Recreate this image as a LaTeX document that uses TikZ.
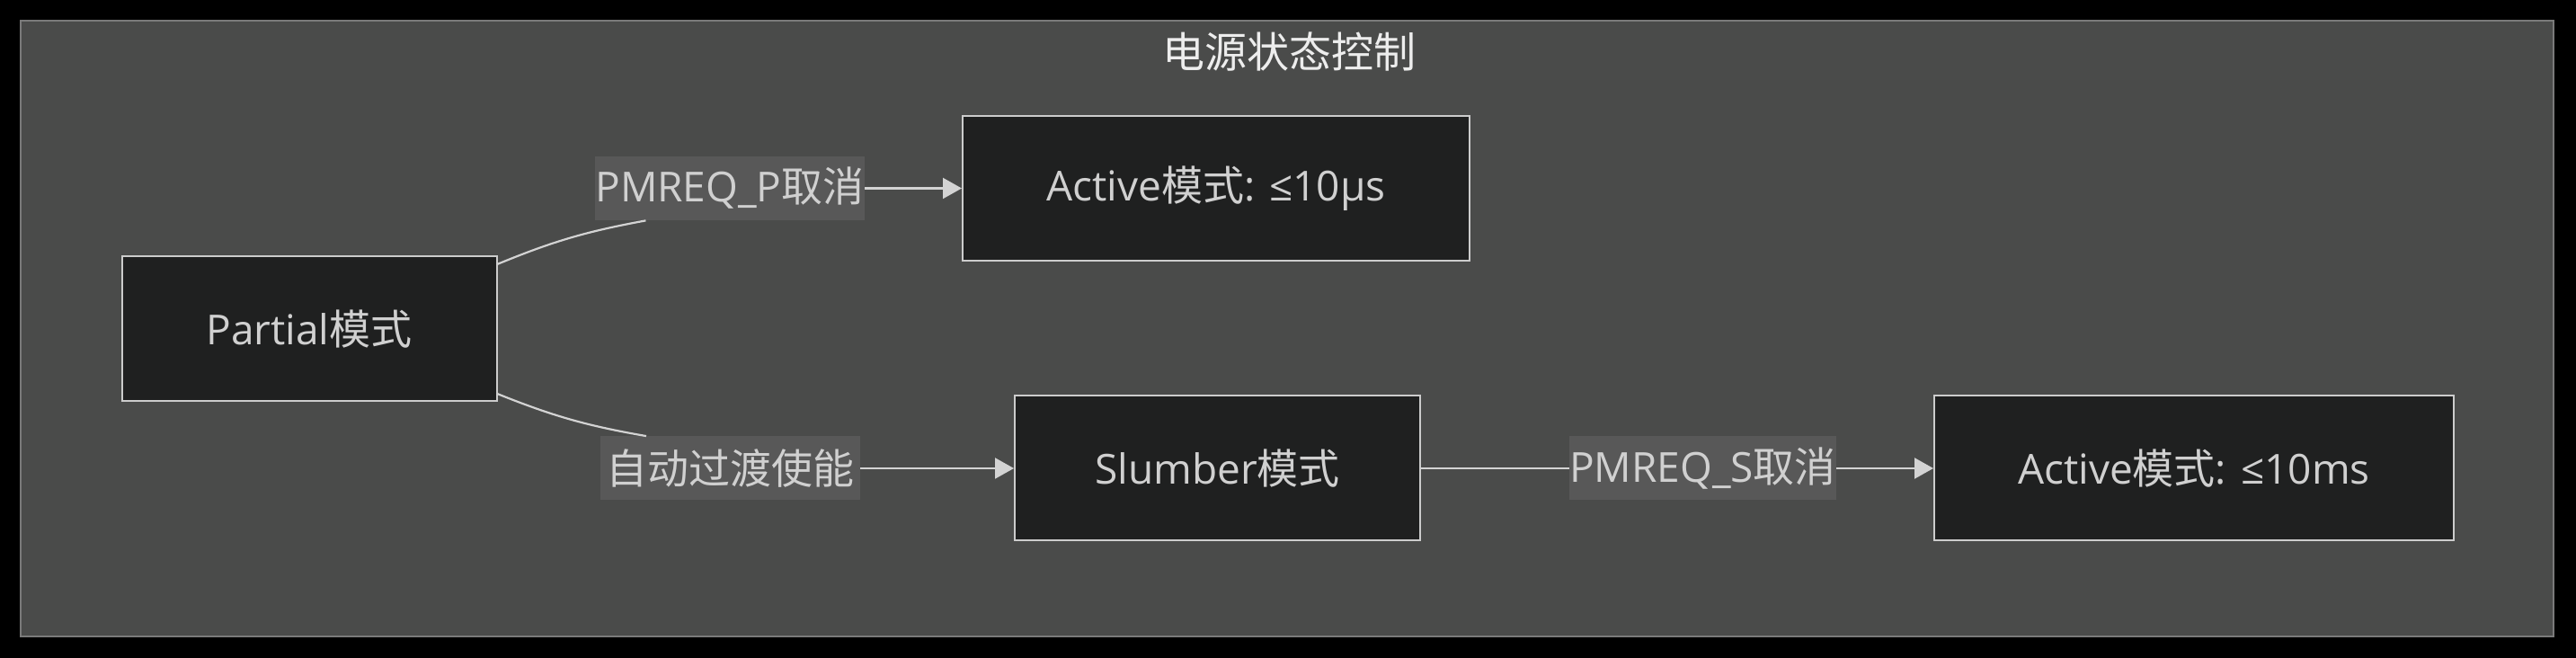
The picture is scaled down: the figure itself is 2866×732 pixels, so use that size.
\documentclass[tikz,border=0pt]{standalone}
\usepackage{fontspec}
\setmainfont{Open Sans}
\newfontfamily\cjk{Noto Sans CJK SC}
\usepackage{xcolor}
\usepackage{tikz}
\usetikzlibrary{arrows.meta,positioning}
\definecolor{clusterbg}{HTML}{4A4B4A}
\definecolor{clusterline}{HTML}{7A7A7A}
\definecolor{nodebg}{HTML}{1F2020}
\definecolor{nodeline}{HTML}{CCCCCC}
\definecolor{labelbg}{HTML}{585858}
\definecolor{textgray}{HTML}{D0D0D0}
\definecolor{edgegray}{HTML}{D3D3D3}

\begin{document}
\begin{tikzpicture}[x=0.5pt, y=0.5pt,
  mode/.style={draw=nodeline, fill=nodebg, line width=1pt, minimum height=80.5pt,
               inner sep=0pt, text=textgray, font=\fontsize{23}{28}\selectfont},
  elabel/.style={fill=labelbg, minimum height=35.5pt, inner sep=0pt,
                 text=textgray, font=\fontsize{23}{28}\selectfont},
  line/.style={draw=edgegray, line width=1.1pt},
  arrow/.style={line, -{Triangle[length=10.5pt, width=11.5pt]}},
]
\fill[black] (0,0) rectangle (2866,732);
\draw[fill=clusterbg, draw=clusterline, line width=1pt] (23,24) rectangle (2841,709);
\node[text=white!93!black, font=\fontsize{23.5}{28}\cjk] (title) at (1434,674) {电源状态控制};

\node[mode, minimum width=208.5pt] (partial) at (344,366) {Partial{\cjk 模式}};
\node[mode, minimum width=282pt] (activeP) at (1353,522.5) {Active{\cjk 模式}: ≤10μs};
\node[mode, minimum width=225.5pt] (slumber) at (1354.5,211) {Slumber{\cjk 模式}};
\node[mode, minimum width=289pt] (activeS) at (2441,211) {Active{\cjk 模式}: ≤10ms};

\node[elabel, minimum width=147pt] (pmreqP) at (812,522.5) {PMREQ\_P{\cjk 取消}};
\node[elabel, minimum width=144.5pt] (autoT) at (812.5,211) {\cjk 自动过渡使能};
\node[elabel, minimum width=145.5pt] (pmreqS) at (1894.5,211) {PMREQ\_S{\cjk 取消}};

\draw[line] (partial.19) to[bend left=6] (pmreqP.201);
\draw[arrow] (pmreqP.east) -- (activeP.west);
\draw[line] (partial.-19) to[bend right=6] (autoT.159);
\draw[arrow] (autoT.east) -- (slumber.west);
\draw[line] (slumber.east) -- (pmreqS.west);
\draw[arrow] (pmreqS.east) -- (activeS.west);
\end{tikzpicture}
\end{document}
